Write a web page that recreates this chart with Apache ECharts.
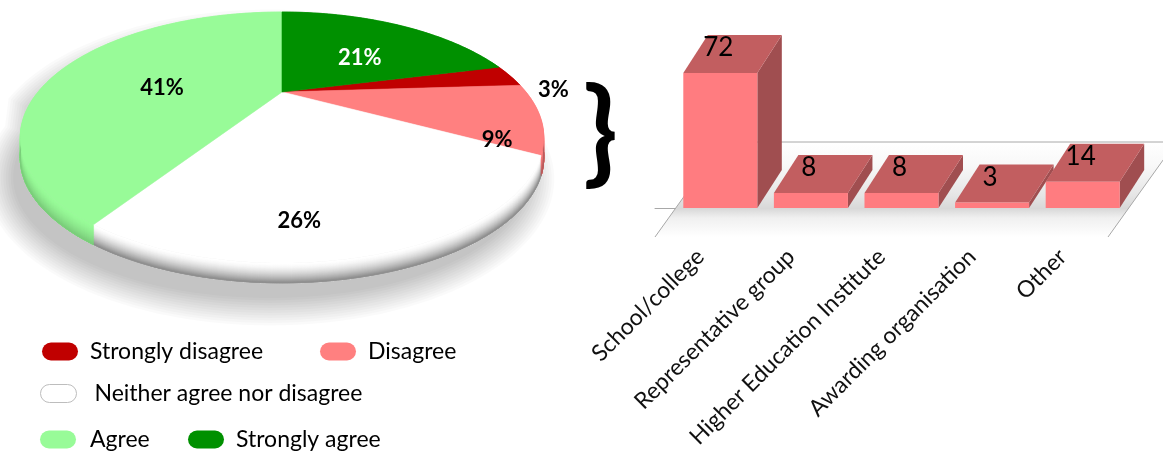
<!DOCTYPE html>
<html>
<head>
<meta charset="utf-8">
<script src="https://cdn.jsdelivr.net/npm/echarts@6/dist/echarts.min.js"></script>
<style>
  html, body { margin: 0; padding: 0; background: #ffffff; }
  #main { width: 1163px; height: 454px; }
</style>
</head>
<body>
<div id="main"></div>
<script>
// Level of agreement (percent of respondents), in series order
const opinionNames = ['Strongly disagree', 'Disagree', 'Neither agree nor disagree', 'Agree', 'Strongly agree'];
const opinionShares = [3, 9, 26, 41, 21];

// Type of organisation of the respondents who disagreed (counts)
const bodyNames = ['School/college', 'Representative group', 'Higher Education Institute', 'Awarding organisation', 'Other'];
const bodyCounts = [72, 8, 8, 3, 14];
const countAxisMax = 80;

// ---- styling ----
const FONT = 'Lato';
const sliceColors = ['#C00000', '#FF8080', '#FFFFFF', '#98FB98', '#009000'];
const rimColors   = ['#6e0000', '#b05858', '#858585', '#78c878', '#005400'];
const sliceLabelColors = ['#000', '#000', '#000', '#000', '#fff'];
const barFront = '#FF7C80', barTop = '#C25E60', barSide = '#A04E50';

// Tilted pie: disc projected with a little perspective, plus a rim
const PIE = { cx: 282, cy: 92, rx: 244, ry: 109, persp: 0.3625, depth: 20, firstAngle: 75.6 };
// soft shadow: offset of the cast shape and how far it fades out
const PIE_SHADOW = { dx: -12, dy: 20, layers: 12, spread: 30, alpha: 0.018 };
// where each percentage sits: radius fraction and angular nudge (deg)
const pieLabelSpots = [
  { rho: 1.12, shift: 8 }, { rho: 0.85, shift: 14 }, { rho: 0.83, shift: 11 },
  { rho: 0.5, shift: -12 }, { rho: 0.5, shift: 8 }
];

// 3-D column geometry (pixels)
const BAR = { widthRatio: 0.817, shiftX: 20, lift: 29, dx: 24.5, dy: -38, floorDx: 68, floorDy: -95 };

function project(theta, rho, z) {
  const t = theta * Math.PI / 180;
  const u = rho * Math.sin(t), v = -rho * Math.cos(t);
  const w = 1 - PIE.persp * v;
  return [PIE.cx + PIE.rx * u / w, PIE.cy + PIE.ry * v / w + z];
}
function arc(a0, a1, rho, z) {
  const pts = [];
  const n = Math.max(2, Math.ceil(Math.abs(a1 - a0)));
  for (let k = 0; k <= n; k++) pts.push(project(a0 + (a1 - a0) * k / n, rho, z));
  return pts;
}
const shareTotal = opinionShares.reduce((s, v) => s + v, 0);
function sliceRange(i) {
  let a = PIE.firstAngle;
  for (let j = 0; j < i; j++) a += 360 * opinionShares[j] / shareTotal;
  return [a, a + 360 * opinionShares[i] / shareTotal];
}
function hex(c) { return [1, 3, 5].map(p => parseInt(c.slice(p, p + 2), 16)); }
function mix(c1, c2, t) {
  const a = hex(c1), b = hex(c2);
  return 'rgb(' + a.map((x, k) => Math.round(x + (b[k] - x) * t)).join(',') + ')';
}

const pillIcon = 'path://M9,0 H27 A9,9 0 0 1 27,18 H9 A9,9 0 0 1 9,0 Z';
const legendSpots = [[42, 340], [320, 340], [40, 382], [40, 428], [188, 428]];
const legendTextGap = [7, 7, 13, 9, 7];

// Soft grey shadow cast by the pie, built up from stacked translucent outlines
const shadowSeries = {
  type: 'custom',
  coordinateSystem: 'none',
  z: 0,
  silent: true,
  data: [[0]],
  renderItem: function () {
    const outline = [];
    for (let t = 0; t <= 360; t += 2) {
      const back = (t < 90 || t > 270);
      outline.push(project(t, 1, back ? 0 : PIE.depth));
    }
    const xs = outline.map(p => p[0]), ys = outline.map(p => p[1]);
    const mx = (Math.min(...xs) + Math.max(...xs)) / 2, my = (Math.min(...ys) + Math.max(...ys)) / 2;
    const hw = (Math.max(...xs) - Math.min(...xs)) / 2, hh = (Math.max(...ys) - Math.min(...ys)) / 2;
    const children = [];
    for (let s = 0; s < PIE_SHADOW.layers; s++) {
      const e = PIE_SHADOW.spread * (1 - s / PIE_SHADOW.layers) - PIE_SHADOW.spread * 0.25;
      const pts = outline.map(p => [
        mx + (p[0] - mx) * (1 + e / hw) + PIE_SHADOW.dx,
        my + (p[1] - my) * (1 + e / hh) + PIE_SHADOW.dy
      ]);
      children.push({ type: 'polygon', z2: s, shape: { points: pts },
                      style: { fill: 'rgba(0,0,0,' + PIE_SHADOW.alpha + ')' } });
    }
    return { type: 'group', children: children };
  }
};

// Rim of the pie (drawn under the slice tops)
const rimSeries = {
  type: 'custom',
  coordinateSystem: 'none',
  z: 1,
  silent: true,
  data: opinionShares.map((v, i) => [i, v]),
  renderItem: function (params, api) {
    const i = api.value(0);
    const [a0, a1] = sliceRange(i);
    const children = [];
    const bottom = arc(a0, a1, 1, PIE.depth).reverse();
    for (let k = 0; k < PIE.depth; k++) {
      const t = Math.pow(k / PIE.depth, 1.6);
      const col = mix(sliceColors[i], rimColors[i], t);
      children.push({
        type: 'polygon', z2: k,
        shape: { points: arc(a0, a1, 1, k).concat(bottom) },
        style: { fill: col, stroke: col, lineWidth: 0.5 }
      });
    }
    return { type: 'group', children: children };
  }
};

// One series per opinion so the legend lists each of them
const sliceSeries = opinionNames.map((name, i) => ({
  type: 'custom',
  name: name,
  coordinateSystem: 'none',
  z: 2,
  silent: true,
  itemStyle: { color: sliceColors[i], borderColor: i === 2 ? '#bdbdbd' : sliceColors[i], borderWidth: i === 2 ? 1 : 0 },
  data: [[i, opinionShares[i]]],
  renderItem: function (params, api) {
    const idx = api.value(0);
    const share = api.value(1);
    const [a0, a1] = sliceRange(idx);
    const pts = [project(0, 0, 0)].concat(arc(a0, a1, 1, 0));
    const spot = pieLabelSpots[idx];
    const lp = project((a0 + a1) / 2 + spot.shift, spot.rho, 0);
    return {
      type: 'group',
      children: [
        { type: 'polygon', shape: { points: pts },
          style: { fill: sliceColors[idx], stroke: sliceColors[idx], lineWidth: 0.6 } },
        { type: 'text', z2: 100,
          style: { text: share + '%', x: lp[0], y: lp[1], align: 'center', verticalAlign: 'middle',
                   font: 'bold 22px ' + FONT, fill: sliceLabelColors[idx] } }
      ]
    };
  }
}));

// Floor of the column chart
const floorSeries = {
  type: 'custom',
  xAxisIndex: 0, yAxisIndex: 0,
  z: 1,
  silent: true,
  data: [[0, 0]],
  renderItem: function (params, api) {
    const band = api.size([1, 0])[0];
    const first = api.coord([0, 0]);
    const last = api.coord([bodyNames.length - 1, 0]);
    const y = first[1] + BAR.lift;
    const l = first[0] - band / 2, r = last[0] + band / 2;
    const p = [[l, y], [r, y], [r + BAR.floorDx, y + BAR.floorDy], [l + BAR.floorDx, y + BAR.floorDy]];
    const edge = { stroke: '#a8a8a8', lineWidth: 1 };
    return {
      type: 'group',
      children: [
        { type: 'polygon', shape: { points: p },
          style: { fill: { type: 'linear', x: 0, y: 1, x2: 0, y2: 0, colorStops: [
            { offset: 0, color: '#ffffff' }, { offset: 0.2, color: '#f0f0f0' },
            { offset: 0.3, color: '#d8d8d8' }, { offset: 0.45, color: '#e6e6e6' },
            { offset: 0.75, color: '#f8f8f8' }, { offset: 1, color: '#ffffff' } ] } } },
        { type: 'polyline', shape: { points: [p[0], p[3], p[2], p[1]] }, style: Object.assign({ fill: null }, edge) }
      ]
    };
  }
};

// 3-D columns
const barSeries = {
  type: 'custom',
  xAxisIndex: 0, yAxisIndex: 0,
  z: 3,
  silent: true,
  data: bodyCounts.map((c, i) => [i, c]),
  renderItem: function (params, api) {
    const cat = api.value(0), val = api.value(1);
    const base = api.coord([cat, 0]);
    const top = api.coord([cat, val]);
    const w = api.size([1, 0])[0] * BAR.widthRatio;
    const x0 = base[0] + BAR.shiftX - w / 2, x1 = x0 + w;
    const yb = base[1], yt = top[1];
    const dx = BAR.dx, dy = BAR.dy;
    return {
      type: 'group',
      children: [
        { type: 'polygon', shape: { points: [[x1, yt], [x1 + dx, yt + dy], [x1 + dx, yb + dy], [x1, yb]] },
          style: { fill: barSide } },
        { type: 'polygon', shape: { points: [[x0, yt], [x0 + dx, yt + dy], [x1 + dx, yt + dy], [x1, yt]] },
          style: { fill: barTop } },
        { type: 'rect', shape: { x: x0, y: yt, width: w, height: yb - yt }, style: { fill: barFront } },
        { type: 'text', z2: 10,
          style: { text: String(val), x: (x0 + x1) / 2 - 2, y: yt - 25, align: 'center', verticalAlign: 'middle',
                   font: '26px ' + FONT, fill: '#000' } }
      ]
    };
  }
};

const option = {
  animation: false,
  backgroundColor: '#ffffff',
  textStyle: { fontFamily: FONT },
  grid: { left: 655, right: 55, top: 58, bottom: 246, containLabel: false },
  xAxis: {
    type: 'category',
    data: bodyNames,
    offset: BAR.lift,
    axisLine: { lineStyle: { color: '#a8a8a8', width: 1 } },
    axisTick: { length: 6, lineStyle: { color: '#a8a8a8' } },
    axisLabel: { interval: 0, rotate: 45, margin: 16, fontSize: 23, fontFamily: FONT, color: '#111' }
  },
  yAxis: { type: 'value', min: 0, max: countAxisMax, show: false, splitLine: { show: false } },
  legend: opinionNames.map((name, i) => ({
    data: [i === 2 ? { name: name, itemStyle: { color: '#ffffff', borderColor: '#bdbdbd', borderWidth: 1 } } : name],
    left: legendSpots[i][0], top: legendSpots[i][1],
    padding: 0,
    itemWidth: 36, itemHeight: 18,
    icon: pillIcon,
    selectedMode: false,
    textStyle: { fontFamily: FONT, fontSize: 23, color: '#000', padding: [0, 0, 0, legendTextGap[i]] }
  })),
  graphic: [
    { type: 'text', left: 583, top: 77,
      style: { text: '}', font: 'bold 114px ' + FONT, fill: '#000' } }
  ],
  series: [shadowSeries, rimSeries].concat(sliceSeries, [floorSeries, barSeries])
};

const chart = echarts.init(document.getElementById('main'), null, { renderer: 'canvas' });
chart.setOption(option);
</script>
</body>
</html>
